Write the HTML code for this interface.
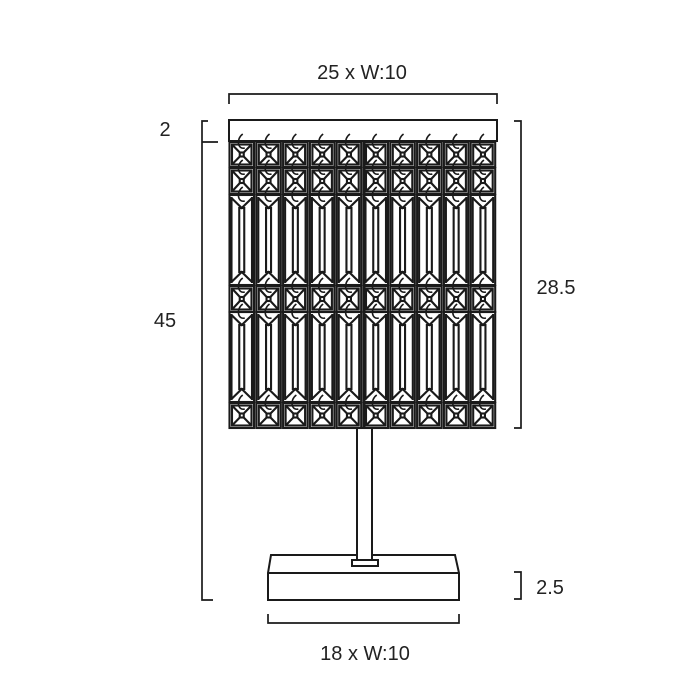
<!DOCTYPE html><html><head><style>body{margin:0;background:#fff}svg{display:block}text{font-family:"Liberation Sans",sans-serif;font-size:20px;fill:#222}</style></head><body>
<svg id="s" width="700" height="700" viewBox="0 0 700 700" fill="none" stroke="#1a1a1a" stroke-width="1.7">
<text x="362" y="79" text-anchor="middle" stroke="none">25 x W:10</text>
<text x="165" y="136" text-anchor="middle" stroke="none">2</text>
<text x="165" y="327" text-anchor="middle" stroke="none">45</text>
<text x="556" y="294" text-anchor="middle" stroke="none">28.5</text>
<text x="550" y="594" text-anchor="middle" stroke="none">2.5</text>
<text x="365" y="660" text-anchor="middle" stroke="none">18 x W:10</text>
<path d="M229 104V94H497V104"/>
<path d="M208 121H202V600H213M202 142H218"/>
<path d="M514 121H521V428H514"/>
<path d="M514 572H521V599H514"/>
<path d="M268 614V623H459V614"/>
<rect x="229" y="120" width="268" height="21" stroke-width="2"/>
<path d="M271 555H455L459 573V600H268V573ZM268 573H459" stroke-width="2"/>
<rect x="357" y="428" width="15" height="132" fill="#fff" stroke-width="2"/>
<rect x="352" y="560" width="26" height="6" fill="#fff" stroke-width="2"/>
<g id="g" stroke-width="2.1"></g>
</svg>
<script>
var g=document.getElementById('g'),h='';
var rows=[[142,'s',25],[168,'s',26],[195,'l',90],[286,'s',26],[312,'l',90],[403,'s',25]];
for(var c=0;c<10;c++){var x=229.5+c*26.8,w=24.5,cx=x+w/2;
rows.forEach(function(r){var y=r[0],H=r[2];
h+='<rect x="'+x+'" y="'+y+'" width="'+w+'" height="'+H+'"/>';
if(r[1]=='s'){h+='<rect x="'+(x+2.5)+'" y="'+(y+2.5)+'" width="'+(w-5)+'" height="'+(H-5)+'"/>';
h+='<path d="M'+(x+2.5)+' '+(y+2.5)+'L'+(x+w-2.5)+' '+(y+H-2.5)+'M'+(x+w-2.5)+' '+(y+2.5)+'L'+(x+2.5)+' '+(y+H-2.5)+'"/>';
h+='<rect x="'+(cx-2)+'" y="'+(y+H/2-2)+'" width="4" height="4" fill="#fff"/>';}
else{h+='<path d="M'+(x+2)+' '+(y+3)+'L'+cx+' '+(y+13)+'L'+(x+w-2)+' '+(y+3)+'M'+(x+2)+' '+(y+H-3)+'L'+cx+' '+(y+H-13)+'L'+(x+w-2)+' '+(y+H-3)+'"/>';
h+='<rect x="'+(cx-2.5)+'" y="'+(y+13)+'" width="5" height="'+(H-26)+'"/>';
h+='<path d="M'+(x+2)+' '+(y+2)+'V'+(y+H-2)+'M'+(x+w-2)+' '+(y+2)+'V'+(y+H-2)+'"/>';}
h+='<path d="M'+(cx+1)+' '+(y-8)+'C'+(cx-6)+' '+(y-3)+' '+(cx-4)+' '+(y+8)+' '+(cx+3)+' '+(y+6)+'" stroke-width="1.6"/>';
});}
h+='<path d="M364.5 142V428" stroke-width="2"/>';
g.innerHTML=h;
</script>
</body></html>
